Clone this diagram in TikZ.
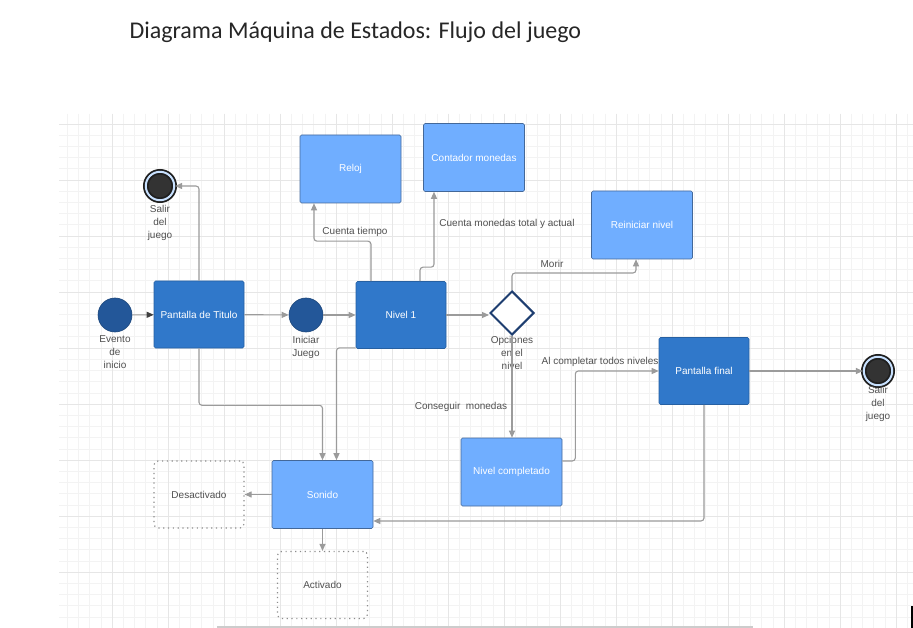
\documentclass[tikz,border=0pt]{standalone}
\usepackage{fontspec}
\setmainfont{Liberation Sans}
\newfontfamily\titlefont{Carlito}
\usepackage{xcolor}
\definecolor{statemid}{RGB}{48,120,202}
\definecolor{statelight}{RGB}{112,174,255}
\definecolor{statedark}{RGB}{35,87,153}
\definecolor{edgegray}{RGB}{155,155,155}
\definecolor{textgray}{RGB}{80,80,80}
\definecolor{gridminor}{RGB}{243,243,243}
\definecolor{gridmajor}{RGB}{230,230,230}
\definecolor{ringblue}{RGB}{200,225,255}
\definecolor{diamondblue}{RGB}{30,62,112}
\usetikzlibrary{arrows.meta,shapes.geometric,positioning}

\begin{document}
\begin{tikzpicture}[x=1pt, y=-1pt,
    every node/.style={font=\fontsize{10}{13}\selectfont},
    midstate/.style={rectangle, rounded corners=1.5pt, fill=statemid, draw=statemid!80!black, line width=0.6pt, text=white, minimum width=90pt, minimum height=67pt, inner sep=0pt},
    lightstate/.style={rectangle, rounded corners=1.5pt, fill=statelight, draw=statelight!60!black, line width=0.6pt, text=white, minimum width=101pt, minimum height=68pt, inner sep=0pt},
    ghoststate/.style={rectangle, rounded corners=4pt, draw=gray!90, line width=1.2pt, dash pattern=on 1.2pt off 3.6pt, text=textgray, minimum width=90pt, minimum height=67pt, inner sep=0pt},
    initst/.style={circle, fill=statedark, draw=statedark!80!black, line width=0.6pt, minimum size=34pt, inner sep=0pt},
    finalst/.style={circle, fill=black!80, draw=black!88, double=ringblue, double distance=2pt, line width=1.8pt, minimum size=28.4pt, inner sep=0pt},
    choice/.style={diamond, draw=diamondblue, line width=2pt, fill=white, minimum width=44pt, minimum height=44pt, inner sep=0pt},
    lbl/.style={text=textgray, align=center},
    flow/.style={draw=edgegray, line width=1.1pt, rounded corners=3pt, -{Triangle[length=7pt,width=6pt]}},
  ]
  \useasboundingbox (0,0) rectangle (913,628);
  \fill[white] (0,0) rectangle (913,628);

  % Grid
  \begin{scope}
    \clip (59,114) rectangle (913,628);
    \foreach \k in {0,...,76}
      \draw[gridminor, line width=0.6pt] ({56+11.2*\k},114) -- ({56+11.2*\k},628);
    \foreach \k in {0,...,46}
      \draw[gridminor, line width=0.6pt] (59,{112.8+11.2*\k}) -- (913,{112.8+11.2*\k});
    \foreach \k in {1,...,16}
      \draw[gridmajor, line width=0.8pt] ({56*\k},114) -- ({56*\k},628);
    \foreach \k in {0,...,9}
      \draw[gridmajor, line width=0.8pt] (59,{124+56*\k}) -- (913,{124+56*\k});
  \end{scope}

  % Title
  \node[anchor=west, font=\titlefont\fontsize{24}{28}\selectfont, text=black!85] (diagtitle) at (126,32) {Diagrama Máquina de Estados: Flujo del juego};

  % States
  \node[initst] (evento) at (115,315) {};
  \node[lbl, below=0pt of evento] (eventolbl) {Evento\\de\\inicio};
  \node[midstate] (titulo) at (199,314.5) {Pantalla de Titulo};
  \node[initst] (iniciar) at (306,315) {};
  \node[lbl, below=0pt of iniciar] (iniciarlbl) {Iniciar\\Juego};
  \node[midstate] (nivel) at (401,315) {Nivel 1};
  \node[choice] (opciones) at (512,313) {};
  \node[lbl, below=-3pt of opciones] (opcioneslbl) {Opciones\\en el\\nivel};
  \node[finalst] (salirA) at (160,186) {};
  \node[lbl, below=1pt of salirA] (salirAlbl) {Salir\\del\\juego};
  \node[lightstate] (reloj) at (350.5,169) {Reloj};
  \node[lightstate] (contador) at (474,157.5) {Contador monedas};
  \node[lightstate] (reiniciar) at (642,225) {Reiniciar nivel};
  \node[midstate] (pfinal) at (704,371) {Pantalla final};
  \node[finalst] (salirB) at (878,371) {};
  \node[lbl, below=-3pt of salirB] (salirBlbl) {Salir\\del\\juego};
  \node[lightstate] (completado) at (511.5,472) {Nivel completado};
  \node[lightstate] (sonido) at (322.5,494.5) {Sonido};
  \node[ghoststate] (desact) at (199,494.5) {Desactivado};
  \node[ghoststate] (activ) at (322.5,585) {Activado};

  % Transitions
  \draw[draw=edgegray, line width=1.1pt, -{Triangle[length=7pt,width=6pt,color=black!75]}] (evento) -- (titulo);
  \draw[flow] (titulo) -- (iniciar);
  \draw[flow] (iniciar) -- (nivel);
  \draw[flow] (nivel.east) -- (nivel.east -| opciones.west);
  \draw[flow] (titulo.north) |- (salirA.east);
  \draw[flow] ([xshift=-30pt]nivel.north) -- ++(0,-40) -| ([xshift=-36.5pt]reloj.south);
  \draw[flow] ([xshift=19pt]nivel.north) -- ++(0,-14) -| ([xshift=-40pt]contador.south);
  \draw[flow] (opciones.north) -- ++(0,-17) -| ([xshift=-6pt]reiniciar.south);
  \draw[flow] (opciones.south) -- (opciones.south |- completado.north);
  \draw[flow] ([yshift=11pt]completado.east) -- ++(13,0) |- (pfinal.west);
  \draw[flow] (pfinal) -- (salirB);
  \draw[flow] (pfinal.south) |- ([yshift=-26.5pt]sonido.east);
  \draw[flow] (titulo.south) -- ++(0,57) -| (sonido.north);
  \draw[flow] ([yshift=1pt]nivel.south west) -| ([xshift=14pt]sonido.north);
  \draw[flow] (sonido) -- (desact);
  \draw[flow] (sonido) -- (activ);

  % Transition labels
  \node[lbl] (tiempolbl) at (355,232) {Cuenta tiempo};
  \node[lbl] (monedaslbl) at (507,224) {Cuenta monedas total y actual};
  \node[lbl] (morirlbl) at (552,264) {Morir};
  \node[lbl] (conseguirlbl) at (461,407) {Conseguir\ \ monedas};
  \node[lbl] (completarlbl) at (600,362) {Al completar todos niveles};

  % Page edge
  \draw[black!20, line width=2pt] (217,626.5) -- (753,626.5);
  \draw[black, line width=1.5pt] (912,606) -- (912,628);
\end{tikzpicture}
\end{document}
